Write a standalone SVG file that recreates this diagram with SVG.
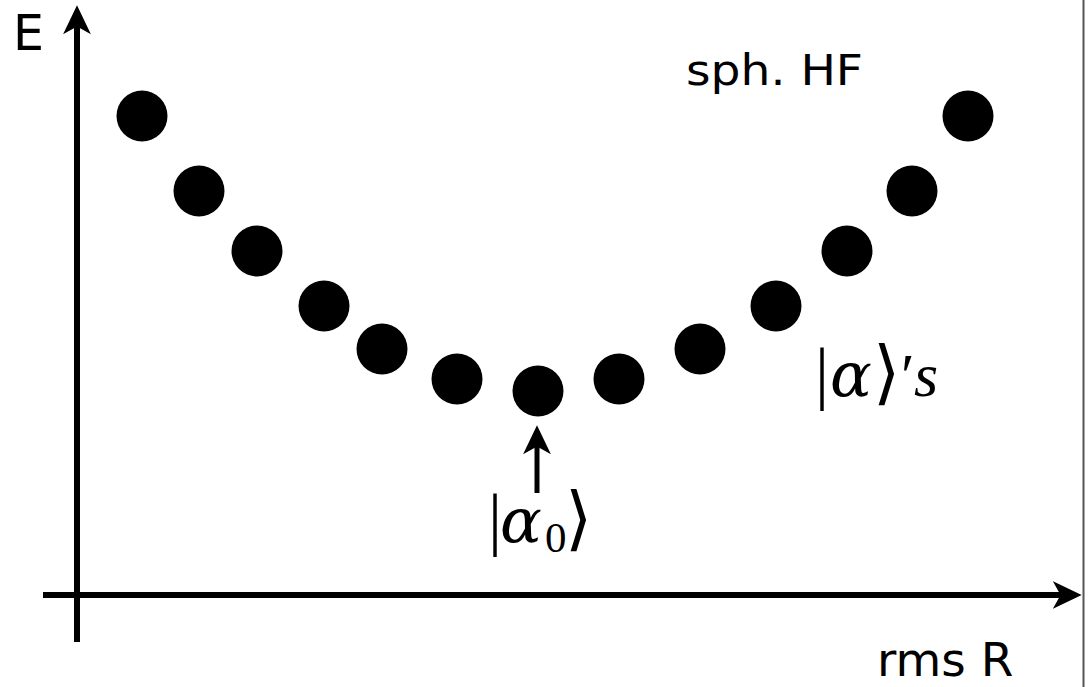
<svg xmlns="http://www.w3.org/2000/svg" width="1088" height="687" viewBox="0 0 1088 687">
<style>
.ax{stroke:#000;stroke-width:6;fill:none}
.dot{fill:#000}
.lbl{font-family:"DejaVu Sans","Noto Sans",sans-serif;fill:#000}
.math{font-family:"Liberation Serif","DejaVu Serif",serif;fill:#000;font-size:62px}
.big{font-size:70px}
.greek{font-family:"DejaVu Serif",serif;font-style:italic}
</style>
<defs>
<marker id="ah" markerUnits="userSpaceOnUse" markerWidth="30" markerHeight="30" viewBox="0 -13 27 26" refX="11" refY="0" orient="auto">
<path d="M0,-12.5 L26,0 L0,12.5 L7,0 Z" fill="#000"/>
</marker>
</defs>
<rect width="1088" height="687" fill="#fff"/>
<line x1="1083.5" y1="0" x2="1083.5" y2="687" stroke="#555" stroke-width="2"/>
<g id="connectors">
<line class="ax" x1="77" y1="642" x2="77" y2="22" marker-end="url(#ah)"/>
<line class="ax" x1="43" y1="595" x2="1065" y2="595" marker-end="url(#ah)"/>
<line class="ax" style="stroke-width:5" x1="537" y1="493" x2="537" y2="442" marker-end="url(#ah)"/>
</g>
<g id="dots">
<circle class="dot" cx="142" cy="116" r="25.5"/>
<circle class="dot" cx="199" cy="191" r="25.5"/>
<circle class="dot" cx="257" cy="251" r="25.5"/>
<circle class="dot" cx="324" cy="306" r="25.5"/>
<circle class="dot" cx="382" cy="349" r="25.5"/>
<circle class="dot" cx="457" cy="379" r="25.5"/>
<circle class="dot" cx="538" cy="391" r="25.5"/>
<circle class="dot" cx="619" cy="379" r="25.5"/>
<circle class="dot" cx="700" cy="349" r="25.5"/>
<circle class="dot" cx="776" cy="306" r="25.5"/>
<circle class="dot" cx="847" cy="251" r="25.5"/>
<circle class="dot" cx="912" cy="191" r="25.5"/>
<circle class="dot" cx="968" cy="116" r="25.5"/>
</g>
<g id="label-E"><text class="lbl" x="13" y="50" font-size="49">E</text></g>
<g id="label-rms"><text class="lbl" x="877" y="676" font-size="47">rms R</text></g>
<g id="label-sph"><text class="lbl" x="686" y="85" font-size="42" textLength="177" lengthAdjust="spacingAndGlyphs">sph. HF</text></g>
<g id="label-alphas"><text class="math" y="396"><tspan class="big" x="815">|</tspan><tspan class="greek" x="830">α</tspan><tspan class="big" x="873">⟩</tspan><tspan x="901">′</tspan><tspan x="914" font-style="italic">s</tspan></text></g>
<g id="label-alpha0"><text class="math" y="542"><tspan class="big" x="488">|</tspan><tspan class="greek" x="500">α</tspan><tspan x="545" y="552" font-size="43">0</tspan><tspan class="big" x="565" y="542">⟩</tspan></text></g>
</svg>
